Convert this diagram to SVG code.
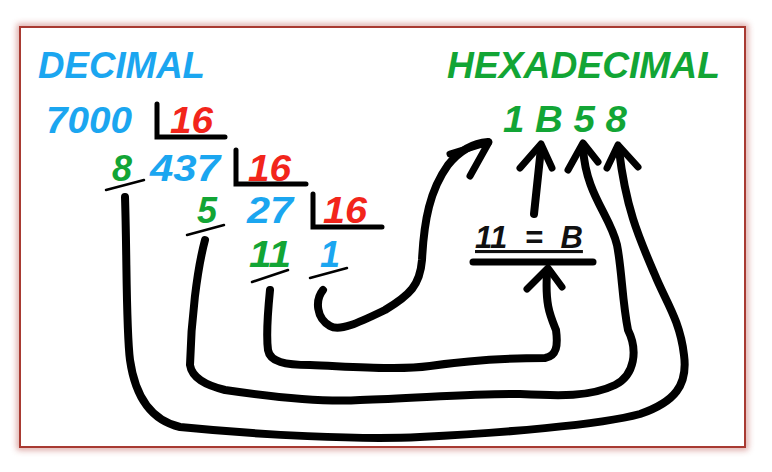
<svg xmlns="http://www.w3.org/2000/svg" width="772" height="472" viewBox="0 0 772 472">
<style>
.t{font-family:"Liberation Sans",Arial,sans-serif;font-weight:bold;font-style:italic}
.blue{fill:#1ba6f0}
.green{fill:#12a535}
.red{fill:#f2251b}
.title{font-size:37px}
.num{font-size:36px}
.br{fill:none;stroke:#000;stroke-width:5;stroke-linecap:round;stroke-linejoin:miter}
.ul{fill:none;stroke:#000;stroke-width:2.5;stroke-linecap:round}
.c{fill:none;stroke:#000;stroke-width:8;stroke-linecap:round;stroke-linejoin:round}
.ah{fill:none;stroke:#000;stroke-width:7;stroke-linecap:round;stroke-linejoin:round}
</style>
<defs>
<filter id="glow" x="-5%" y="-5%" width="110%" height="110%">
<feGaussianBlur stdDeviation="3"/>
</filter>
</defs>
<rect width="772" height="472" fill="#ffffff"/>
<g id="frame">
<rect x="20" y="27" width="725" height="420" fill="none" stroke="#c0605a" stroke-width="6" opacity="0.6" filter="url(#glow)"/>
<rect x="20" y="27" width="725" height="420" fill="#ffffff" stroke="#a83a32" stroke-width="2"/>
</g>
<g id="decimal-title"><text class="t title blue" x="38" y="78" textLength="167" lengthAdjust="spacingAndGlyphs">DECIMAL</text></g>
<g id="hex-title"><text class="t title green" x="447" y="78" textLength="273" lengthAdjust="spacingAndGlyphs">HEXADECIMAL</text></g>
<g id="div1">
<text class="t num blue" x="46" y="133" textLength="86" lengthAdjust="spacingAndGlyphs">7000</text>
<path class="br" d="M157,104 L157,137 L225,137"/>
<text class="t num red" x="170" y="133" textLength="43" lengthAdjust="spacingAndGlyphs">16</text>
</g>
<g id="div2">
<text class="t num green" x="112" y="181">8</text>
<line class="ul" x1="106" y1="190" x2="144" y2="180"/>
<text class="t num blue" x="150" y="181" textLength="70" lengthAdjust="spacingAndGlyphs">437</text>
<path class="br" d="M236,150 L236,184 L306,184"/>
<text class="t num red" x="248" y="181" textLength="43" lengthAdjust="spacingAndGlyphs">16</text>
</g>
<g id="div3">
<text class="t num green" x="197" y="223">5</text>
<line class="ul" x1="187" y1="235" x2="224" y2="225"/>
<text class="t num blue" x="247" y="223" textLength="46" lengthAdjust="spacingAndGlyphs">27</text>
<path class="br" d="M313,194 L313,227 L382,227"/>
<text class="t num red" x="323" y="223" textLength="44" lengthAdjust="spacingAndGlyphs">16</text>
</g>
<g id="rem">
<text class="t num green" x="249" y="267" textLength="42" lengthAdjust="spacingAndGlyphs">11</text>
<line class="ul" x1="252" y1="282" x2="288" y2="270"/>
<text class="t num blue" x="320" y="267">1</text>
<line class="ul" x1="310" y1="278" x2="347" y2="268"/>
</g>
<g id="hex-result"><text class="t title green" x="503" y="132" textLength="124" lengthAdjust="spacingAndGlyphs">1 B 5 8</text></g>
<g id="eleven-b">
<text class="t" x="475" y="248" font-size="31" fill="#111" word-spacing="9" text-decoration="underline">11 = B</text>
<line x1="473" y1="262" x2="593" y2="262" stroke="#000" stroke-width="7" stroke-linecap="round"/>
</g>
<g id="connectors">
<path class="c" d="M125,197 C127,260 126,330 130,360 C135,395 150,420 180,427 C260,435 360,440 420,437 C500,433 600,425 640,414 C675,402 688,385 684,355 C680,320 665,300 655,275 C640,240 626,210 619,150"/>
<polyline class="ah" points="607,168 618,145 638,167"/>
<path class="c" d="M205,240 C197,270 191,320 190,365 C192,378 205,385 225,390 C280,398 330,402 360,400 C420,398 480,393 520,394 C560,396 590,397 615,385 C635,375 638,350 628,330 C622,300 622,270 617,245 C610,215 586,195 583,148"/>
<polyline class="ah" points="568,170 583,143 598,162"/>
<path class="c" d="M270,290 C268,310 266,335 268,350 C270,362 285,365 310,365 C360,367 400,370 430,366 C470,360 510,358 545,358 C557,356 558,345 556,330 C550,315 545,305 547,272"/>
<polyline class="ah" points="527,289 548,268 562,287"/>
<path class="c" d="M323,290 C315,300 316,318 330,326 C340,332 360,322 385,310 C410,295 420,285 422,260 C424,220 430,190 448,165 C460,150 475,143 488,142"/>
<polyline class="ah" points="450,154 489,142 470,176"/>
<path class="c" d="M534,214 L541,148"/>
<polyline class="ah" points="520,168 541,144 552,168"/>
</g>
</svg>
